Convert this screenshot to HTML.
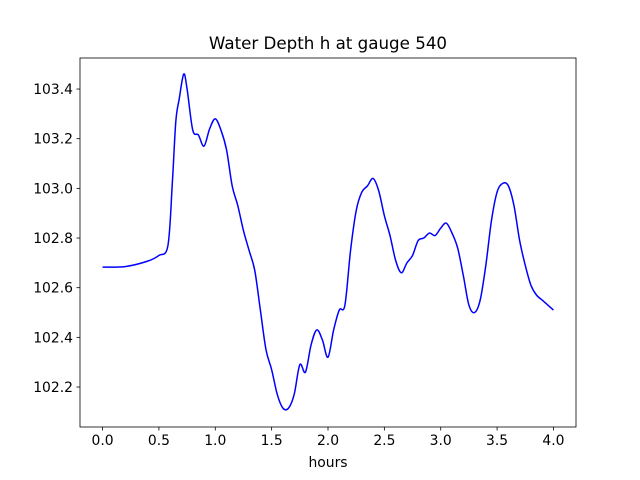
<!DOCTYPE html>
<html><head><meta charset="utf-8"><style>
body{margin:0;background:#fff;}
svg{display:block;font-family:"DejaVu Sans","Liberation Sans",sans-serif;}
</style></head><body>
<svg id="chart" width="640" height="480" viewBox="0 0 640 480" xmlns="http://www.w3.org/2000/svg">
<rect width="640" height="480" fill="#fff"/>
<text x="328" y="49" text-anchor="middle" font-size="16.7">Water Depth h at gauge 540</text>
<g id="plot"></g>
<text x="328" y="467" text-anchor="middle" font-size="13.9">hours</text>
</svg>
<script>
const times=[0,0.2,0.4,0.5,0.58,0.62,0.65,0.68,0.72,0.75,0.8,0.85,0.9,0.95,1.0,1.05,1.1,1.15,1.2,1.25,1.3,1.35,1.4,1.45,1.5,1.55,1.6,1.65,1.7,1.75,1.8,1.85,1.9,1.95,2.0,2.05,2.1,2.15,2.2,2.25,2.3,2.35,2.4,2.45,2.5,2.55,2.6,2.65,2.7,2.75,2.8,2.85,2.9,2.95,3.0,3.05,3.1,3.15,3.2,3.25,3.3,3.35,3.4,3.45,3.5,3.55,3.6,3.65,3.7,3.75,3.8,3.85,3.9,3.95,4.0];
const depth=[102.683,102.685,102.707,102.73,102.77,103.03,103.27,103.36,103.46,103.40,103.235,103.215,103.17,103.24,103.28,103.235,103.155,103.01,102.93,102.83,102.75,102.67,102.51,102.35,102.27,102.17,102.115,102.115,102.17,102.29,102.26,102.37,102.43,102.39,102.32,102.43,102.51,102.53,102.75,102.91,102.985,103.01,103.04,102.99,102.89,102.81,102.71,102.66,102.70,102.73,102.79,102.80,102.82,102.81,102.84,102.86,102.82,102.76,102.65,102.53,102.50,102.55,102.69,102.87,102.985,103.02,103.01,102.93,102.79,102.69,102.61,102.57,102.55,102.53,102.51];
const xTicks=[0,0.5,1.0,1.5,2.0,2.5,3.0,3.5,4.0];
const xTickLabels=["0.0","0.5","1.0","1.5","2.0","2.5","3.0","3.5","4.0"];
const yTicks=[102.2,102.4,102.6,102.8,103.0,103.2,103.4];
const yTickLabels=["102.2","102.4","102.6","102.8","103.0","103.2","103.4"];

const L=80,R=576,T=58,B=427;
const xMin=-0.2,xMax=4.2,yMin=102.039,yMax=103.525;
const xs=v=>L+(v-xMin)/(xMax-xMin)*(R-L);
const ys=v=>B-(v-yMin)/(yMax-yMin)*(B-T);
const NS="http://www.w3.org/2000/svg";
const g=document.getElementById('plot');
function mk(tag,attrs){const e=document.createElementNS(NS,tag);for(const k in attrs)e.setAttribute(k,attrs[k]);g.appendChild(e);return e;}

// smooth line (Catmull-Rom through data points)
const P=times.map((t,i)=>[xs(t),ys(depth[i])]);
let d="M"+P[0][0].toFixed(2)+","+P[0][1].toFixed(2);
for(let i=0;i<P.length-1;i++){
  const p0=P[Math.max(0,i-1)],p1=P[i],p2=P[i+1],p3=P[Math.min(P.length-1,i+2)];
  const c1=[p1[0]+(p2[0]-p0[0])/6,p1[1]+(p2[1]-p0[1])/6];
  const c2=[p2[0]-(p3[0]-p1[0])/6,p2[1]-(p3[1]-p1[1])/6];
  d+="C"+c1[0].toFixed(2)+","+c1[1].toFixed(2)+" "+c2[0].toFixed(2)+","+c2[1].toFixed(2)+" "+p2[0].toFixed(2)+","+p2[1].toFixed(2);
}
const line=mk('path',{d:d,fill:"none",stroke:"#0000ff","stroke-width":1.5,"stroke-linejoin":"round"});



// frame
const fr=mk('rect',{x:L,y:T,width:R-L,height:B-T,fill:"none",stroke:"#000","stroke-width":0.8});



xTicks.forEach((v,i)=>{
  const x=xs(v);
  const tk=mk('line',{x1:x,x2:x,y1:B,y2:B+3.5,stroke:"#000","stroke-width":0.8});
  
  
  const tx=mk('text',{x:x,y:B+18,"text-anchor":"middle","font-size":"13.9"});
  tx.textContent=xTickLabels[i];
  
  
});
yTicks.forEach((v,i)=>{
  const y=ys(v);
  const tk=mk('line',{x1:L-3.5,x2:L,y1:y,y2:y,stroke:"#000","stroke-width":0.8});
  
  
  const tx=mk('text',{x:L-7,y:y+5,"text-anchor":"end","font-size":"13.9"});
  tx.textContent=yTickLabels[i];
  
  
});
</script>
</body></html>
